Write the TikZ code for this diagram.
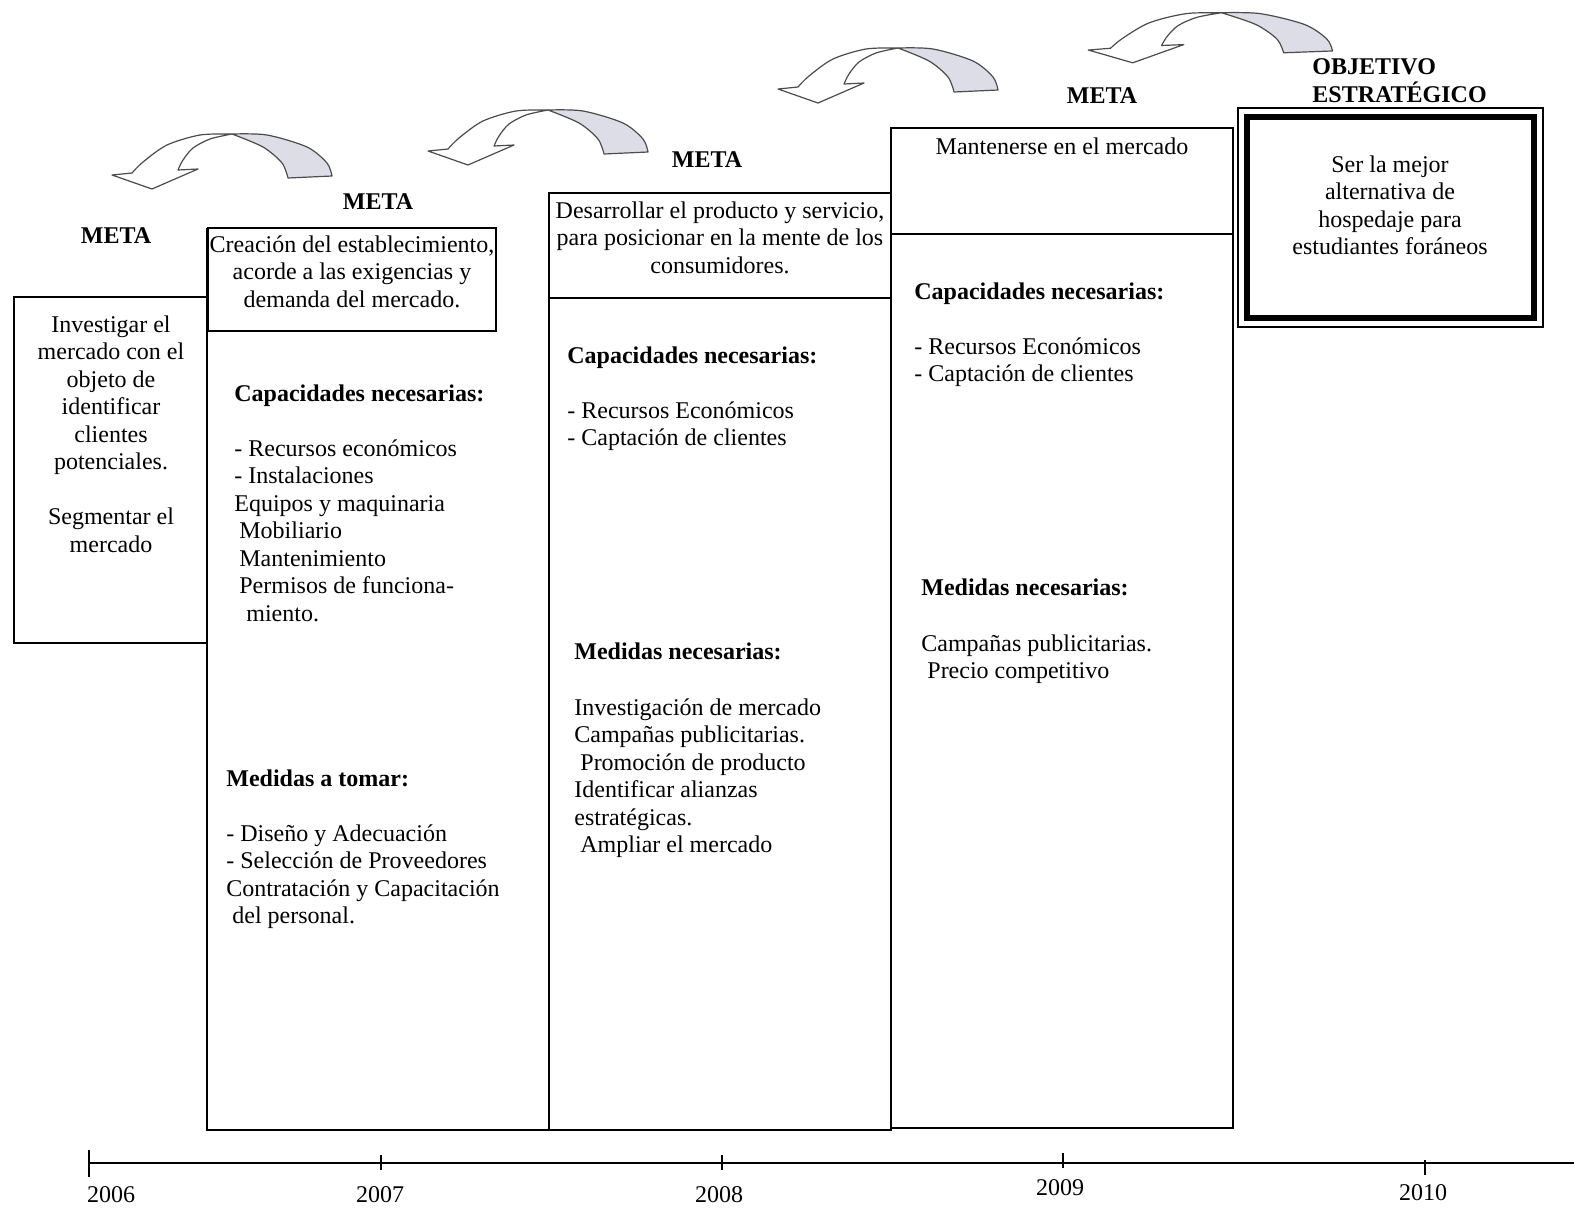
\documentclass[tikz,border=0pt]{standalone}
\usepackage{fontspec}
\setmainfont{Liberation Serif}
\newcommand\uturnarrow[4]{%
  \begin{scope}[shift={(#1,#2)},xscale=#3,yscale=#4]
    \filldraw[arrline,fill=arrgray] plot[smooth] coordinates {(132,14) (167,15) (207,27) (227,43) (232,56)} -- (188,58) -- plot[smooth] coordinates {(188,58) (182,43) (163,27) (132,14)} -- cycle;
    \filldraw[arrline,fill=white] plot[smooth] coordinates {(132,14) (100,15) (67,25) (43,42) (32,53)} -- (12,55) -- (52,69) -- (98,49) -- (78,50) -- plot[smooth] coordinates {(78,50) (83,40) (93,28) (110,19) (132,14)} -- cycle;
  \end{scope}}
\definecolor{arrgray}{HTML}{DCDDE6}
\begin{document}
\begin{tikzpicture}[x=0.5pt,y=-0.5pt,
  arrline/.style={draw=black!70,line width=0.6pt,line join=round},
  txt/.style={font=\fontsize{12}{13.75}\selectfont,inner sep=0pt},
  hd/.style={font=\fontsize{12}{13.75}\selectfont\bfseries,inner sep=0pt},
  boxline/.style={line width=1pt},
  colline/.style={line width=1.3pt},
  axis/.style={line width=1.2pt}]
\fill[white] (0,0) rectangle (1574,1211);
\useasboundingbox (0,0) rectangle (1574,1211);

% curved arrows
\uturnarrow{100}{120}{1}{1}
\uturnarrow{416}{96}{1}{1}
\uturnarrow{766}{34}{1}{1}
\uturnarrow{1075}{0}{1.11}{0.91}

% boxes
\draw[boxline] (207,297) -- (14,297) -- (14,643) -- (207,643);
\draw[boxline] (208,228) rectangle (496,331);
\draw[colline] (207,228) -- (207,1130) -- (549,1130);
\draw[boxline] (549,298) -- (549,193) -- (891,193) -- (891,298);
\draw[colline] (549,298) rectangle (891,1130);
\draw[colline] (891,128) rectangle (1233,1128);
\draw[boxline] (891,234) -- (1233,234);
\draw[line width=0.7pt] (1238,108) rectangle (1543,327);
\draw[line width=2.6pt] (1247,117) rectangle (1534,318);

% META labels
\node[hd,anchor=base] (meta1) at (116,243) {META};
\node[hd,anchor=base] (meta2) at (378,209) {META};
\node[hd,anchor=base] (meta3) at (707,167) {META};
\node[hd,anchor=base] (meta4) at (1102,103) {META};
\node[hd,anchor=base west] (obj1) at (1312,74) {OBJETIVO};
\node[hd,anchor=base west] (obj2) at (1312,102) {ESTRATÉGICO};

% box 1
\node[txt,align=center,anchor=north] (b1) at (111,315) {Investigar el\\ mercado con el\\ objeto de\\ identificar\\ clientes\\ potenciales.\\[13.75pt] Segmentar el\\ mercado};

% column 2
\node[txt,align=center,anchor=north] (g2) at (352,235) {Creación del establecimiento,\\ acorde a las exigencias y\\ demanda del mercado.};
\node[hd,anchor=base west] (c2) at (234,401) {Capacidades necesarias:};
\node[txt,align=left,anchor=north west] (l2) at (234,439) {- Recursos económicos\\ - Instalaciones\\ Equipos y maquinaria\\ \hspace*{2.5pt}Mobiliario\\ \hspace*{2.5pt}Mantenimiento\\ \hspace*{2.5pt}Permisos de funciona-\\ \hspace*{6pt}miento.};
\node[hd,anchor=base west] (d2) at (226,786) {Medidas a tomar:};
\node[txt,align=left,anchor=north west] (k2) at (226,824) {- Diseño y Adecuación\\ - Selección de Proveedores\\ Contratación y Capacitación\\ \hspace*{3pt}del personal.};

% column 3
\node[txt,align=center,anchor=north] (g3) at (720,201) {Desarrollar el producto y servicio,\\ para posicionar en la mente de los\\ consumidores.};
\node[hd,anchor=base west] (c3) at (567,363) {Capacidades necesarias:};
\node[txt,align=left,anchor=north west] (l3) at (567,401) {- Recursos Económicos\\ - Captación de clientes};
\node[hd,anchor=base west] (d3) at (574,659) {Medidas necesarias:};
\node[txt,align=left,anchor=north west] (k3) at (574,698) {Investigación de mercado\\ Campañas publicitarias.\\ \hspace*{3pt}Promoción de producto\\ Identificar alianzas\\ estratégicas.\\ \hspace*{3pt}Ampliar el mercado};

% column 4
\node[txt,anchor=north] (g4) at (1062,137) {Mantenerse en el mercado};
\node[hd,anchor=base west] (c4) at (914,299) {Capacidades necesarias:};
\node[txt,align=left,anchor=north west] (l4) at (914,337) {- Recursos Económicos\\ - Captación de clientes};
\node[hd,anchor=base west] (d4) at (921,595) {Medidas necesarias:};
\node[txt,align=left,anchor=north west] (k4) at (921,634) {Campañas publicitarias.\\ \hspace*{3pt}Precio competitivo};

% objective
\node[txt,align=center,anchor=north] (o) at (1390,155) {Ser la mejor\\ alternativa de\\ hospedaje para\\ estudiantes foráneos};

% timeline
\coordinate (t0) at (89,1163);
\coordinate (tend) at (1574,1163);
\draw[axis] (t0) -- (tend);
\draw[axis] (89,1150) -- (89,1177);
\draw[axis] (381,1155) -- (381,1170);
\draw[axis] (722,1155) -- (722,1170);
\draw[axis] (1063,1153) -- (1063,1168);
\draw[axis] (1425,1160) -- (1425,1175);
\node[txt] (y1) at (111,1195) {2006};
\node[txt] (y2) at (380,1195) {2007};
\node[txt] (y3) at (719,1195) {2008};
\node[txt] (y4) at (1060,1188) {2009};
\node[txt] (y5) at (1423,1193) {2010};
\end{tikzpicture}
\end{document}
